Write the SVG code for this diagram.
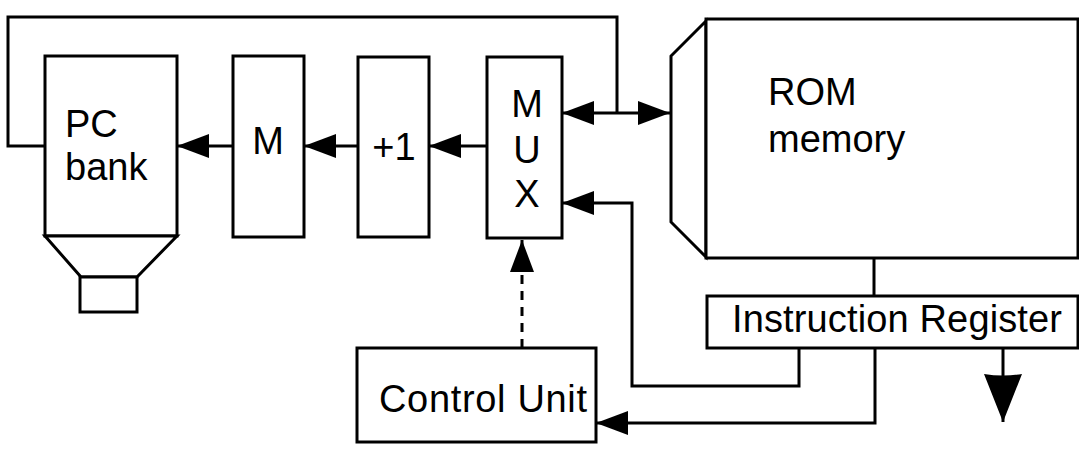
<svg xmlns="http://www.w3.org/2000/svg" width="1079" height="450" viewBox="0 0 1079 450">
<style>
.box{fill:#fff;stroke:#000;stroke-width:3}
.ln{fill:none;stroke:#000;stroke-width:3}
.dash{fill:none;stroke:#000;stroke-width:3;stroke-dasharray:9 7}
text{font-family:"Liberation Sans",Arial,sans-serif;font-size:38px;fill:#000}
</style>
<defs>
<marker id="ah" markerUnits="userSpaceOnUse" viewBox="0 0 32 24" refX="32" refY="12" markerWidth="32" markerHeight="24" orient="auto-start-reverse">
<path d="M0,0 L32,12 L0,24 Z" fill="#000"/>
</marker>
<marker id="ahBig" markerUnits="userSpaceOnUse" viewBox="0 0 48 38" refX="48" refY="19" markerWidth="48" markerHeight="38" orient="auto">
<path d="M0,0 Q3,19 0,38 L48,19 Z" fill="#000"/>
</marker>
</defs>
<rect width="1079" height="450" fill="#fff"/>
<g id="connectors">
<path class="ln" d="M45,146 H8 V17 H617 V113"/>
<path class="ln" d="M233,146 H177" marker-end="url(#ah)"/>
<path class="ln" d="M358,146 H304" marker-end="url(#ah)"/>
<path class="ln" d="M487,146 H429" marker-end="url(#ah)"/>
<path class="ln" d="M562,113 H670" marker-start="url(#ah)" marker-end="url(#ah)"/>
<path class="ln" d="M799,348 V386 H632 V203 H562" marker-end="url(#ah)"/>
<path class="ln" d="M874,258 V296"/>
<path class="ln" d="M875,348 V423 H596" marker-end="url(#ah)"/>
<path class="ln" d="M1003,348 V422" marker-end="url(#ahBig)"/>
<path class="dash" d="M522,348 V268"/>
<path class="ln" d="M522,268 V240" marker-end="url(#ah)"/>
</g>
<g id="pc-bank">
<rect class="box" x="45" y="56" width="132" height="180"/>
<path class="box" d="M45,236 L81,277 H137 L177,236 Z"/>
<rect class="box" x="80" y="277" width="57" height="35"/>
<text x="65" y="137">PC</text>
<text x="65" y="180">bank</text>
</g>
<g id="m">
<rect class="box" x="233" y="56" width="71" height="181"/>
<text x="268" y="154" text-anchor="middle">M</text>
</g>
<g id="plus1">
<rect class="box" x="358" y="57" width="71" height="180"/>
<text x="394" y="160" text-anchor="middle">+1</text>
</g>
<g id="mux">
<rect class="box" x="487" y="57" width="75" height="181"/>
<text x="527" y="117" text-anchor="middle">M</text>
<text x="527" y="163" text-anchor="middle">U</text>
<text x="527" y="207" text-anchor="middle">X</text>
</g>
<g id="rom">
<path class="box" d="M706,21 L671,56 V222 L706,257 Z"/>
<rect class="box" x="706" y="19" width="372" height="239"/>
<text x="768" y="105" font-size="36">ROM</text>
<text x="768" y="152" font-size="36">memory</text>
</g>
<g id="instruction-register">
<rect class="box" x="707" y="296" width="371" height="52"/>
<text x="732" y="332" textLength="330">Instruction Register</text>
</g>
<g id="control-unit">
<rect class="box" x="357" y="348" width="239" height="94"/>
<text x="379" y="412" textLength="208">Control Unit</text>
</g>
</svg>
